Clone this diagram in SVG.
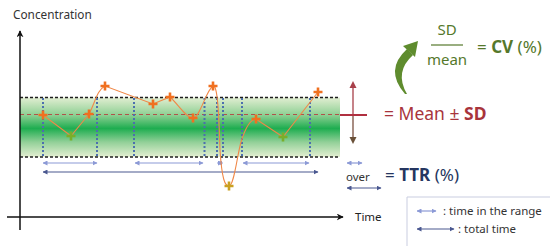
<svg xmlns="http://www.w3.org/2000/svg" xmlns:xlink="http://www.w3.org/1999/xlink" width="550" height="246" viewBox="0 0 550 246">
<style>
.txt{font-family:"Noto Sans","Open Sans","Liberation Sans",sans-serif}
.axis{stroke:#111;stroke-width:1.5;fill:none}
.edge{stroke:#1e1e1e;stroke-width:1.6;stroke-dasharray:3 2;fill:none}
.mean{stroke:#b0524a;stroke-width:1.2;stroke-dasharray:4 3;fill:none}
.vd{stroke:#4d6fae;stroke-width:2;stroke-dasharray:2 2;fill:none}
.lt{stroke:#8c9ad6;stroke-width:1.2;fill:none}
.dk{stroke:#4a5890;stroke-width:1.2;fill:none}
.data{stroke:#f08848;stroke-width:1.1;fill:none}
</style>
<defs>
<linearGradient id="band" x1="0" y1="0" x2="0" y2="1">
<stop offset="0" stop-color="#e2eed2"/>
<stop offset="0.3" stop-color="#8ccf92"/>
<stop offset="0.52" stop-color="#1ead50"/>
<stop offset="0.75" stop-color="#92d098"/>
<stop offset="1" stop-color="#e4efd2"/>
</linearGradient>
<marker id="ah" viewBox="0 0 10 10" refX="9" refY="5" markerWidth="7" markerHeight="7" orient="auto-start-reverse" markerUnits="userSpaceOnUse"><path d="M0,0 L10,5 L0,10 L3,5 Z" fill="#111"/></marker>
<marker id="al" viewBox="0 0 10 10" refX="9" refY="5" markerWidth="5" markerHeight="5" orient="auto-start-reverse" markerUnits="userSpaceOnUse"><path d="M0,0 L10,5 L0,10 Z" fill="#8c9ad6"/></marker>
<marker id="ad" viewBox="0 0 10 10" refX="9" refY="5" markerWidth="5" markerHeight="5" orient="auto-start-reverse" markerUnits="userSpaceOnUse"><path d="M0,0 L10,5 L0,10 Z" fill="#4a5890"/></marker>
<path id="plus" d="M-4.5,0 H4.5 M0,-4.5 V4.5" stroke-width="2.6" fill="none"/>
</defs>

<g id="band-area">
<rect x="20" y="97.5" width="320" height="59.5" fill="url(#band)"/>
<line class="edge" x1="20" y1="97.5" x2="340" y2="97.5"/>
<line class="edge" x1="20" y1="157" x2="340" y2="157"/>
<line class="mean" x1="20" y1="114.5" x2="340" y2="114.5"/>
</g>

<g id="axes">
<line class="axis" x1="20" y1="230" x2="20" y2="31" marker-end="url(#ah)"/>
<line class="axis" x1="7" y1="217" x2="343" y2="217" marker-end="url(#ah)"/>
<text class="txt" x="13" y="19" font-size="11.8" fill="#333">Concentration</text>
<text class="txt" x="355" y="221" font-size="11.5" fill="#222">Time</text>
</g>

<g id="boundaries">
<line class="vd" x1="43" y1="98" x2="43" y2="157"/>
<line class="vd" x1="97" y1="98" x2="97" y2="157"/>
<line class="vd" x1="134" y1="98" x2="134" y2="157"/>
<line class="vd" x1="204.5" y1="98" x2="204.5" y2="157"/>
<line class="vd" x1="217" y1="98" x2="217" y2="157"/>
<line class="vd" x1="223" y1="98" x2="223" y2="157"/>
<line class="vd" x1="242" y1="98" x2="242" y2="157"/>
<line class="vd" x1="310" y1="98" x2="310" y2="157"/>
</g>

<g id="connectors">
<line class="lt" x1="43" y1="163" x2="97" y2="163" marker-start="url(#al)" marker-end="url(#al)"/>
<line class="lt" x1="135" y1="163" x2="203" y2="163" marker-start="url(#al)" marker-end="url(#al)"/>
<line class="lt" x1="217.5" y1="163" x2="222.5" y2="163" marker-start="url(#al)" marker-end="url(#al)"/>
<line class="lt" x1="243" y1="163" x2="309" y2="163" marker-start="url(#al)" marker-end="url(#al)"/>
<line class="dk" x1="43" y1="172" x2="318" y2="172" marker-start="url(#ad)" marker-end="url(#ad)"/>
</g>

<g id="data">
<path class="data" d="M43,115 L71,136 L89,114 C95,103 97,90 105,86 L153,104 L170,97 C178,104 186,118 193,118 C200,118 206,90 213,86 C218,84 219,120 220,150 C222,180 225,186 229,186 C234,186 237,156 241,142 C246,126 251,119 256,119 L283,137 L318,92"/>
<g stroke="#f07020">
<use xlink:href="#plus" x="43" y="115"/>
<use xlink:href="#plus" x="89" y="114"/>
<use xlink:href="#plus" x="105" y="86"/>
<use xlink:href="#plus" x="153" y="104"/>
<use xlink:href="#plus" x="170" y="97"/>
<use xlink:href="#plus" x="193" y="118"/>
<use xlink:href="#plus" x="213" y="86"/>
<use xlink:href="#plus" x="256" y="119"/>
<use xlink:href="#plus" x="318" y="92"/>
</g>
<g stroke="#7aae2a">
<use xlink:href="#plus" x="71" y="136"/>
<use xlink:href="#plus" x="283" y="137"/>
</g>
<use xlink:href="#plus" x="229" y="186" stroke="#c9a021"/>
</g>

<g id="sd-marker">
<line x1="353" y1="84" x2="353" y2="115" stroke="#a8404a" stroke-width="1.3"/>
<path d="M349.5,88 L353,81 L356.5,88 Z" fill="#a8404a"/>
<line x1="353" y1="115" x2="353" y2="140" stroke="#7a5040" stroke-width="1.3"/>
<path d="M349.5,137 L353,144 L356.5,137 Z" fill="#6a5038"/>
<line x1="340" y1="115" x2="367" y2="115" stroke="#b03040" stroke-width="2"/>
<text class="txt" x="384" y="120" font-size="17.5" fill="#a8343c">= Mean ± <tspan font-weight="bold">SD</tspan></text>
</g>

<g id="cv">
<path d="M405,94 Q384,70 407,49 L413,55 Q394,72 407,94 Z" fill="#5f8c2e"/>
<path d="M403,46 L418,41 L415,57 Z" fill="#5f8c2e"/>
<text class="txt" x="447" y="35" font-size="15" fill="#55782b" text-anchor="middle">SD</text>
<line x1="431" y1="45" x2="463" y2="45" stroke="#55782b" stroke-width="1.2"/>
<text class="txt" x="447" y="65" font-size="15" fill="#55782b" text-anchor="middle">mean</text>
<text class="txt" x="477" y="53" font-size="17" fill="#55782b">= <tspan font-weight="bold">CV</tspan> (%)</text>
</g>

<g id="ttr">
<line class="lt" x1="347" y1="163" x2="362" y2="163" marker-start="url(#al)" marker-end="url(#al)"/>
<text class="txt" x="346" y="181" font-size="11.5" fill="#333">over</text>
<line class="dk" x1="347" y1="188" x2="381" y2="188" marker-start="url(#ad)" marker-end="url(#ad)"/>
<text class="txt" x="385" y="181" font-size="17" fill="#253660">= <tspan font-weight="bold">TTR</tspan> (%)</text>
</g>

<g id="legend">
<path d="M407,246 V197 H550" stroke="#c9cde0" stroke-width="1" fill="none"/>
<line class="lt" x1="417" y1="211" x2="436" y2="211" marker-start="url(#al)" marker-end="url(#al)"/>
<text class="txt" x="443" y="215" font-size="11.5" fill="#333">: time in the range</text>
<line class="dk" x1="417" y1="229" x2="454" y2="229" marker-start="url(#ad)" marker-end="url(#ad)"/>
<text class="txt" x="458" y="233" font-size="11.5" fill="#333">: total time</text>
</g>
</svg>
